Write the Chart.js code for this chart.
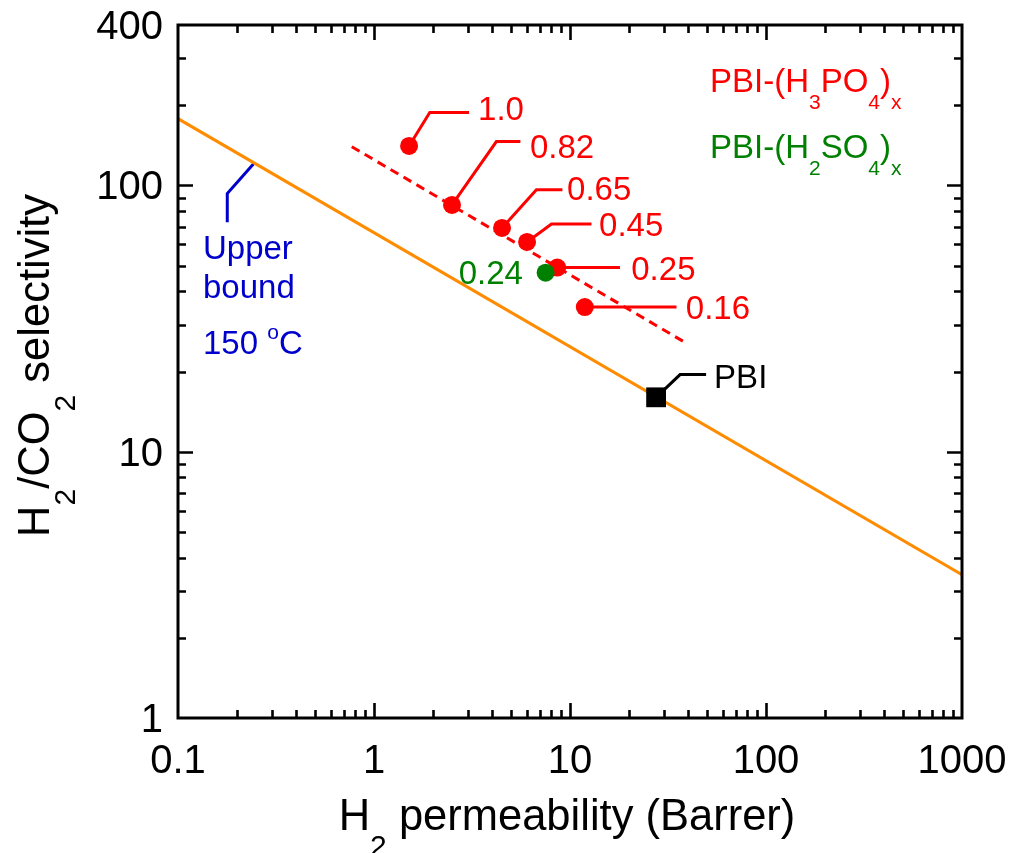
<!DOCTYPE html>
<html><head><meta charset="utf-8">
<script src="https://cdn.jsdelivr.net/npm/chart.js@4/dist/chart.umd.min.js"></script>
<style>html,body{margin:0;padding:0;background:#fff;overflow:hidden}canvas{display:block}</style>
</head><body>
<canvas id="c" width="1012" height="853"></canvas>
<script>
// ---- data ----
const xTickLabels = [0.1, 1, 10, 100, 1000];
const yTickLabels = [1, 10, 100, 400];
const upperBoundX = [0.1, 1000];
const upperBoundY = [178, 3.45];
const trendX = [0.77, 39.4];
const trendY = [139.7, 25.5];
const h3po4Labels = ['1.0', '0.82', '0.65', '0.45', '0.25', '0.16'];
const h3po4X = [1.51, 2.50, 4.50, 6.04, 8.61, 11.9];
const h3po4Y = [140.6, 84.4, 69.2, 61.3, 49.1, 34.9];
const h2so4Labels = ['0.24'];
const h2so4X = [7.51];
const h2so4Y = [47.0];
const pbiLabels = ['PBI'];
const pbiX = [27.5];
const pbiY = [16.0];
const upperBoundLabelX = 0.245;

// ---- styles ----
const FONT = '"Liberation Sans", Arial, Helvetica, sans-serif';
const RED = '#ff0000', GREEN = '#008000', BLUE = '#0000cc', ORANGE = '#ff8c00', BLACK = '#000000';
const h3po4Leaders = [
  {path: [[20.7, -33.4], [60, -33.4]], text: [69, -26]},
  {path: [[44.4, -63.4], [68.4, -63.4]], text: [78, -47.4]},
  {path: [[34.4, -38.3], [60.4, -38.3]], text: [65, -27.6]},
  {path: [[24.4, -18], [64.4, -18]], text: [72, -5.6]},
  {path: [[62.7, 0]], text: [74, 12.3]},
  {path: [[91.7, 0]], text: [101, 11.7]}
];
const h2so4Leaders = [{path: [], text: [-22.7, 11.3], align: 'right'}];
const pbiLeaders = [{path: [[24, -22.7], [50, -22.7]], text: [58, -9.4]}];

const pts = (xs, ys) => xs.map((x, i) => ({x: x, y: ys[i]}));

function richWidth(ctx, parts, size, subScale) {
  let w = 0;
  for (const [t, k] of parts) {
    ctx.font = (k ? Math.round(size * subScale) : size) + 'px ' + FONT;
    w += ctx.measureText(t).width;
  }
  return w;
}
function rich(ctx, parts, x, y, size, color, align, subScale, subShift) {
  subScale = subScale || 0.65; subShift = subShift || 0.5;
  const total = richWidth(ctx, parts, size, subScale);
  let cx = align === 'center' ? x - total / 2 : align === 'right' ? x - total : x;
  ctx.fillStyle = color;
  ctx.textAlign = 'left';
  ctx.textBaseline = 'alphabetic';
  for (const [t, k] of parts) {
    ctx.font = (k ? Math.round(size * subScale) : size) + 'px ' + FONT;
    const dy = k === 1 ? size * subShift : k === 2 ? -size * 0.45 : 0;
    ctx.fillText(t, cx, y + dy);
    cx += ctx.measureText(t).width;
  }
}
function logTicks(min, max) {
  const out = [];
  for (let e = Math.floor(Math.log10(min)); Math.pow(10, e) <= max; e++) {
    for (let m = 1; m <= 9; m++) {
      const v = +(m * Math.pow(10, e)).toPrecision(6);
      if (v > min * 1.0001 && v < max * 0.9999) out.push({v: v, major: m === 1});
    }
  }
  return out;
}
function drawLeaders(ctx, chart, xs, ys, leaders, color) {
  const sx = chart.scales.x, sy = chart.scales.y;
  xs.forEach((xv, i) => {
    const px = sx.getPixelForValue(xv), py = sy.getPixelForValue(ys[i]);
    const L = leaders[i];
    if (L.path.length) {
      ctx.beginPath();
      ctx.moveTo(px, py);
      L.path.forEach(p => ctx.lineTo(px + p[0], py + p[1]));
      ctx.strokeStyle = color; ctx.lineWidth = 3; ctx.setLineDash([]);
      ctx.stroke();
    }
  });
}
function drawLabels(ctx, chart, xs, ys, labels, leaders, color, size) {
  const sx = chart.scales.x, sy = chart.scales.y;
  xs.forEach((xv, i) => {
    const px = sx.getPixelForValue(xv), py = sy.getPixelForValue(ys[i]);
    const L = leaders[i];
    ctx.font = size + 'px ' + FONT;
    ctx.fillStyle = color;
    ctx.textAlign = L.align || 'left';
    ctx.textBaseline = 'alphabetic';
    ctx.fillText(labels[i], px + L.text[0], py + L.text[1]);
  });
}

const decor = {
  id: 'decor',
  beforeDatasetsDraw(chart) {
    const ctx = chart.ctx;
    ctx.save();
    drawLeaders(ctx, chart, h3po4X, h3po4Y, h3po4Leaders, RED);
    drawLeaders(ctx, chart, pbiX, pbiY, pbiLeaders, BLACK);
    // upper bound leader, anchored on the upper-bound line
    const sx = chart.scales.x, sy = chart.scales.y;
    const lx0 = Math.log10(upperBoundX[0]), lx1 = Math.log10(upperBoundX[1]);
    const ly0 = Math.log10(upperBoundY[0]), ly1 = Math.log10(upperBoundY[1]);
    const t = (Math.log10(upperBoundLabelX) - lx0) / (lx1 - lx0);
    const ay = Math.pow(10, ly0 + t * (ly1 - ly0));
    const ax = sx.getPixelForValue(upperBoundLabelX), apy = sy.getPixelForValue(ay);
    ctx.beginPath();
    ctx.moveTo(ax, apy);
    ctx.lineTo(ax - 27, apy + 30.6);
    ctx.lineTo(ax - 27, apy + 59.3);
    ctx.strokeStyle = BLUE; ctx.lineWidth = 3; ctx.stroke();
    rich(ctx, [['Upper', 0]], ax - 51.3, apy + 96.3, 33, BLUE, 'left');
    rich(ctx, [['bound', 0]], ax - 51.3, apy + 135, 33, BLUE, 'left');
    rich(ctx, [['150 ', 0], ['o', 2], ['C', 0]], ax - 51.3, apy + 191.3, 33, BLUE, 'left');
    ctx.restore();
  },
  afterDatasetsDraw(chart) {
    const ctx = chart.ctx;
    const a = chart.chartArea;
    const sx = chart.scales.x, sy = chart.scales.y;
    ctx.save();
    // frame
    ctx.strokeStyle = BLACK; ctx.lineWidth = 3; ctx.setLineDash([]);
    ctx.strokeRect(a.left, a.top, a.right - a.left, a.bottom - a.top);
    // ticks
    ctx.lineWidth = 2.6;
    ctx.beginPath();
    logTicks(sx.min, sx.max).forEach(tk => {
      const p = Math.round(sx.getPixelForValue(tk.v)) + 0.5;
      const len = tk.major ? 15 : 8;
      ctx.moveTo(p, a.bottom); ctx.lineTo(p, a.bottom - len);
      ctx.moveTo(p, a.top); ctx.lineTo(p, a.top + len);
    });
    logTicks(sy.min, sy.max).forEach(tk => {
      const p = Math.round(sy.getPixelForValue(tk.v)) + 0.5;
      const len = tk.major ? 15 : 8;
      ctx.moveTo(a.left, p); ctx.lineTo(a.left + len, p);
      ctx.moveTo(a.right, p); ctx.lineTo(a.right - len, p);
    });
    ctx.stroke();
    // tick labels
    ctx.fillStyle = BLACK;
    ctx.font = '40px ' + FONT;
    ctx.textBaseline = 'alphabetic';
    ctx.textAlign = 'center';
    xTickLabels.forEach(v => ctx.fillText(String(v), sx.getPixelForValue(v), a.bottom + 55));
    ctx.textAlign = 'right';
    yTickLabels.forEach(v => ctx.fillText(String(v), a.left - 15, sy.getPixelForValue(v) + 14));
    // axis titles
    rich(ctx, [['H', 0], ['2', 1], [' permeability (Barrer)', 0]], (a.left + a.right) / 2 - 3, a.bottom + 112, 43.5, BLACK, 'center', 0.7, 0.6);
    ctx.save();
    ctx.translate(49, (a.top + a.bottom) / 2 - 6);
    ctx.rotate(-Math.PI / 2);
    rich(ctx, [['H', 0], ['2', 1], ['/CO', 0], ['2', 1], [' selectivity', 0]], 0, 0, 43.5, BLACK, 'center', 0.7, 0.6);
    ctx.restore();
    // data labels
    drawLabels(ctx, chart, h3po4X, h3po4Y, h3po4Labels, h3po4Leaders, RED, 33);
    drawLabels(ctx, chart, h2so4X, h2so4Y, h2so4Labels, h2so4Leaders, GREEN, 33);
    drawLabels(ctx, chart, pbiX, pbiY, pbiLabels, pbiLeaders, BLACK, 33);
    // legend texts
    rich(ctx, [['PBI-(H', 0], ['3', 1], ['PO', 0], ['4', 1], [')', 0], ['x', 1]], a.right - 252, a.top + 67, 33, RED, 'left');
    rich(ctx, [['PBI-(H', 0], ['2', 1], ['SO', 0], ['4', 1], [')', 0], ['x', 1]], a.right - 252, a.top + 133, 33, GREEN, 'left');
    ctx.restore();
  }
};

new Chart(document.getElementById('c'), {
  type: 'scatter',
  data: {
    datasets: [
      {label: 'PBI-(H2SO4)x', data: pts(h2so4X, h2so4Y), backgroundColor: GREEN, borderWidth: 0, pointRadius: 9, order: 0},
      {label: 'PBI-(H3PO4)x', data: pts(h3po4X, h3po4Y), backgroundColor: RED, borderWidth: 0, pointRadius: 9, order: 1},
      {label: 'PBI', data: pts(pbiX, pbiY), backgroundColor: BLACK, borderWidth: 0, pointStyle: 'rect', pointRadius: 14, order: 2},
      {label: 'trend', data: pts(trendX, trendY), showLine: true, borderColor: RED, borderWidth: 3, borderDash: [9, 6], pointRadius: 0, order: 3},
      {label: 'Upper bound 150 °C', data: pts(upperBoundX, upperBoundY), showLine: true, borderColor: ORANGE, borderWidth: 3, pointRadius: 0, order: 4}
    ]
  },
  options: {
    responsive: false,
    devicePixelRatio: 1,
    animation: false,
    events: [],
    layout: {padding: {left: 178, right: 50, top: 25, bottom: 135}},
    plugins: {legend: {display: false}, tooltip: {enabled: false}},
    scales: {
      x: {type: 'logarithmic', min: 0.1, max: 1000, display: false},
      y: {type: 'logarithmic', min: 1, max: 400, display: false}
    }
  },
  plugins: [decor]
});
</script>
</body></html>
